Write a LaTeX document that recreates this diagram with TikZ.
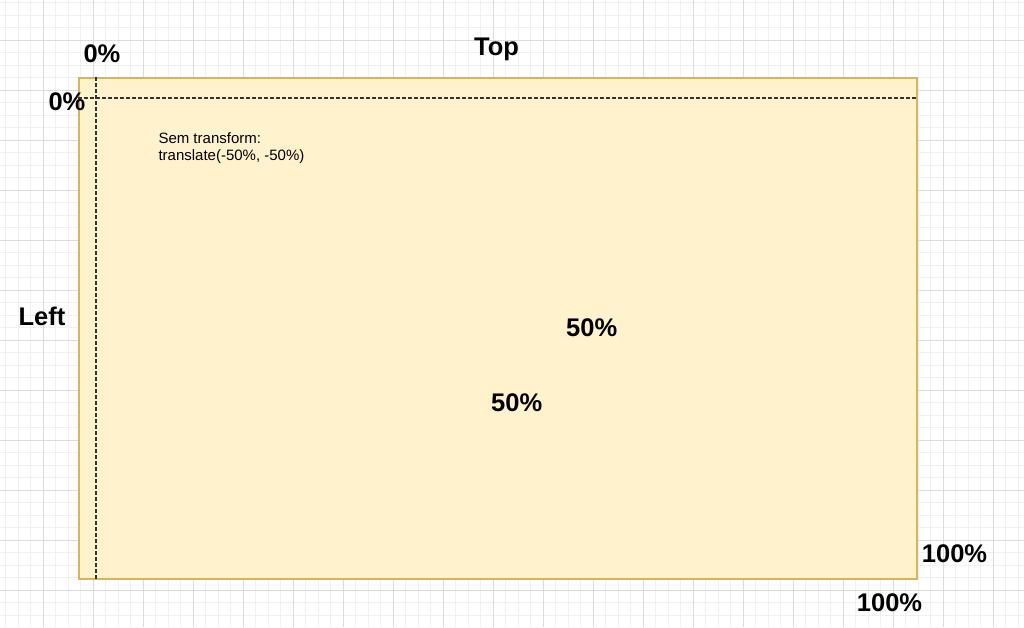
\documentclass[tikz,border=0pt]{standalone}
\usepackage{fontspec}
\setmainfont{Liberation Sans}
\usetikzlibrary{positioning}

\definecolor{panelfill}{HTML}{FFF2CC}
\definecolor{paneldraw}{HTML}{D6B656}
\definecolor{gridminor}{HTML}{F0F0F0}
\definecolor{gridmajor}{HTML}{DCDCDC}

\tikzset{
  pct/.style={anchor=base west,inner sep=0pt,font=\fontsize{25.5}{30}\selectfont\bfseries},
  note/.style={anchor=base west,inner sep=0pt,align=left,font=\fontsize{15}{17}\selectfont},
  panel/.style={draw=paneldraw,fill=panelfill,line width=1.5pt,inner sep=0pt},
  guide/.style={dashed,dash pattern=on 3.5pt off 2.5pt,color=black!80,line width=1.4pt}
}

\begin{document}
\begin{tikzpicture}[x=1pt,y=-1pt]
  \useasboundingbox (0,0) rectangle (1024,627);
  \fill[white] (0,0) rectangle (1024,627);
  % background grid
  \foreach \x in {5.8,18.3,...,1024}
    \draw[gridminor,line width=1pt] (\x,0) -- (\x,627);
  \foreach \y in {2.5,15,...,627}
    \draw[gridminor,line width=1pt] (0,\y) -- (1024,\y);
  \foreach \x in {43.3,93.3,...,1024}
    \draw[gridmajor,line width=1pt] (\x,0) -- (\x,627);
  \foreach \y in {40,90,...,627}
    \draw[gridmajor,line width=1pt] (0,\y) -- (1024,\y);

  \node[panel,anchor=north west,minimum width=838pt,minimum height=501pt] (box) at (78,77) {};

  \coordinate (vx) at (96,0);
  \coordinate (hy) at (0,98);
  \draw[guide] (box.north -| vx) -- (box.south -| vx);
  \draw[guide] (box.west |- hy) -- (box.east |- hy);

  \node[pct] (top)   at (474,55)    {Top};
  \node[pct] (left)  at (18.3,325)  {Left};
  \node[pct] (topz)  at (83.3,62.3) {0\%};
  \node[pct] (leftz) at (48.3,110)  {0\%};
  \node[pct] (midx)  at (566,336.7) {50\%};
  \node[pct] (midy)  at (491,411.7) {50\%};
  \node[pct] (endy)  at (921.7,562.3) {100\%};
  \node[pct] (endx)  at (856.7,611.7) {100\%};

  \node[note] (hint) at (158.3,160) {Sem transform:\\translate(-50\%, -50\%)};
\end{tikzpicture}
\end{document}
